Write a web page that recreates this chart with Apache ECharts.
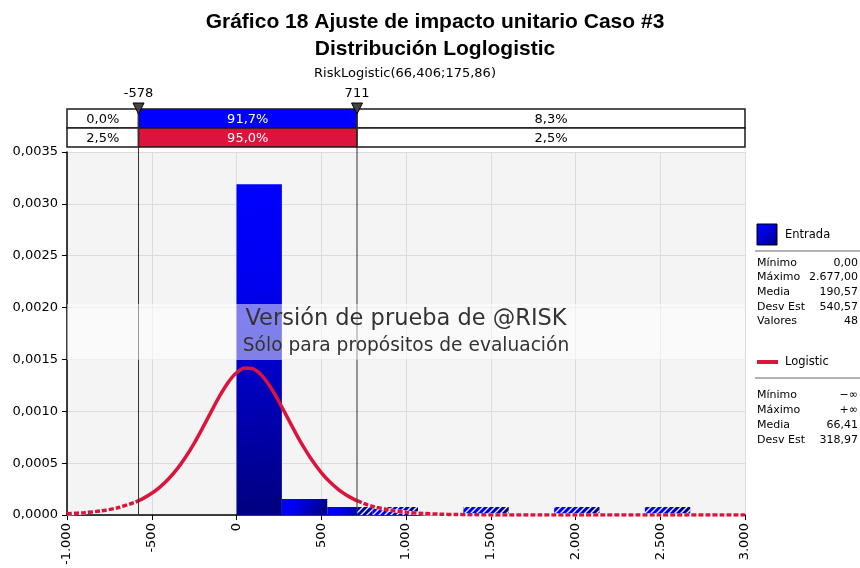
<!DOCTYPE html>
<html>
<head>
<meta charset="utf-8">
<title>Gráfico 18 Ajuste de impacto unitario Caso #3</title>
<script src="https://cdn.jsdelivr.net/npm/echarts@6/dist/echarts.min.js"></script>
<style>
  html, body { margin: 0; padding: 0; background: #fff; }
  #chart { width: 860px; height: 568px; }
</style>
</head>
<body>
<div id="chart"></div>
<script>
// histograma Entrada (48 valores), densidad por clase
const binEdges = [0, 267.7, 535.4, 803.1, 1070.8, 1338.5, 1606.2, 1873.9, 2141.6, 2409.3, 2677]
const binDensity = [0.00319, 0.000156, 0.0000778, 0.0000778, 0, 0.0000778, 0, 0.0000778, 0, 0.0000778]

// curva Logistic
const curveX = [-1000, -900, -800, -700, -600, -578, -550, -500, -450, -400, -350, -300, -250, -200, -150, -100, -50, 0, 50, 100,
  150, 200, 250, 300, 350, 400, 450, 500, 550, 600, 650, 700, 711, 750, 800, 900, 1000, 1100, 1200, 1300, 1400, 1600, 1800, 2000, 2500, 3000]
const curveY = [0.0000132, 0.0000232, 0.0000407, 0.000071, 0.000123, 0.000139, 0.000161, 0.00021, 0.000272, 0.00035, 0.000445, 0.00056,
  0.000692, 0.00084, 0.000995, 0.001146, 0.001277, 0.001372, 0.001419, 0.001409, 0.001344, 0.001235, 0.001095, 0.000942, 0.000788,
  0.000645, 0.000518, 0.00041, 0.000321, 0.000249, 0.000192, 0.000147, 0.000139, 0.000112, 0.000085, 0.0000488, 0.0000279, 0.0000158,
  0.000009, 0.0000051, 0.0000029, 0.0000009, 0.0000003, 0.0000001, 0, 0]

// delimitadores y porcentajes de las barras superiores
const markers = [-578, 711]
const inputPct = [0.0, 91.7, 8.3]
const fitPct = [2.5, 95.0, 2.5]

const entradaStats = [['Mínimo', '0,00'], ['Máximo', '2.677,00'], ['Media', '190,57'], ['Desv Est', '540,57'], ['Valores', '48']]
const logisticStats = [['Mínimo', '−∞'], ['Máximo', '+∞'], ['Media', '66,41'], ['Desv Est', '318,97']]

const xMin = -1000, xMax = 3000, xStep = 500
const yMax = 0.0035, yStep = 0.0005

const FONT = 'DejaVu Sans'
const RED = '#dc143c'
const BLUE = '#0000ff'

function fmtThousands (v) {
  const s = String(Math.abs(v)).replace(/\B(?=(\d{3})+(?!\d))/g, '.')
  return (v < 0 ? '-' : '') + s
}
function fmtPct (v) {
  return v.toFixed(1).replace('.', ',') + '%'
}

// patron de rayas blancas para las clases fuera del intervalo
const stripe = document.createElement('canvas')
stripe.width = 6
stripe.height = 6
const sctx = stripe.getContext('2d')
sctx.strokeStyle = 'rgba(255,255,255,0.95)'
sctx.lineWidth = 1.3
sctx.beginPath()
sctx.moveTo(-1, 7); sctx.lineTo(7, -1)
sctx.moveTo(5, 7); sctx.lineTo(7, 5)
sctx.moveTo(-1, 1); sctx.lineTo(1, -1)
sctx.stroke()

function barGradient () {
  return new echarts.graphic.LinearGradient(0, 0, 1, 1, [
    {offset: 0, color: '#0000ff'},
    {offset: 0.3, color: '#0000f0'},
    {offset: 1, color: '#00007e'}
  ])
}

const binData = binDensity.map((h, i) => [binEdges[i], binEdges[i + 1], h])

function renderBar (params, api) {
  const lo = api.value(0)
  const hi = api.value(1)
  const h = api.value(2)
  if (!h) return
  const p0 = api.coord([lo, h])
  const p1 = api.coord([hi, 0])
  const children = [{
    type: 'rect',
    shape: {x: p0[0], y: p0[1], width: p1[0] - p0[0], height: p1[1] - p0[1]},
    style: {fill: barGradient()}
  }]
  if (hi > markers[1]) {
    const xs = api.coord([Math.max(lo, markers[1]), 0])[0]
    children.push({
      type: 'rect',
      shape: {x: xs, y: p0[1], width: p1[0] - xs, height: p1[1] - p0[1]},
      style: {fill: {image: stripe, repeat: 'repeat'}}
    })
  }
  return {type: 'group', children: children}
}

// barras de porcentaje, lineas verticales y triangulos
function renderFrame (params, api) {
  const top = 109
  const rowH = 19
  const xs = [api.coord([xMin, 0])[0], api.coord([markers[0], 0])[0], api.coord([markers[1], 0])[0], api.coord([xMax, 0])[0]]
  const yBase = api.coord([0, 0])[1]
  const rows = [
    {pct: inputPct, fill: ['#fff', BLUE, '#fff']},
    {pct: fitPct, fill: ['#fff', RED, '#fff']}
  ]
  const children = []
  rows.forEach((row, r) => {
    for (let c = 0; c < 3; c++) {
      children.push({
        type: 'rect',
        shape: {x: xs[c], y: top + r * rowH, width: xs[c + 1] - xs[c], height: rowH},
        style: {fill: row.fill[c], stroke: '#1a1a1a', lineWidth: 1.5}
      })
      children.push({
        type: 'text',
        x: (xs[c] + xs[c + 1]) / 2,
        y: top + r * rowH + rowH / 2 + 1,
        style: {
          text: fmtPct(row.pct[c]), fontSize: 13, fontFamily: FONT,
          fill: row.fill[c] === '#fff' ? '#000' : '#fff', align: 'center', verticalAlign: 'middle'
        }
      })
    }
  })
  markers.forEach((m, i) => {
    const x = xs[i + 1]
    children.push({
      type: 'line',
      shape: {x1: x, y1: top, x2: x, y2: yBase},
      style: {stroke: '#333', lineWidth: 1}
    })
    children.push({
      type: 'polygon',
      shape: {points: [[x - 5.5, 103], [x + 5.5, 103], [x, 114]]},
      style: {fill: '#444', stroke: '#000', lineWidth: 1}
    })
    children.push({
      type: 'text',
      x: x,
      y: 94,
      style: {text: fmtThousands(m), fontSize: 13, fontFamily: FONT, fill: '#000', align: 'center', verticalAlign: 'middle'}
    })
  })
  return {type: 'group', children: children}
}

const curvePts = curveX.map((x, i) => [x, curveY[i]])
const leftTail = curvePts.filter(p => p[0] <= markers[0])
const middle = curvePts.filter(p => p[0] >= markers[0] && p[0] <= markers[1])
const rightTail = curvePts.filter(p => p[0] >= markers[1])

function tailSeries (data, dashed) {
  return {
    type: 'line',
    data: data,
    smooth: 0.3,
    showSymbol: false,
    silent: true,
    z: dashed ? 4 : 3,
    lineStyle: dashed
      ? {color: RED, width: 3.5, type: [5, 2]}
      : {color: '#fff', width: 3.5}
  }
}

function statRows (stats, y0, step) {
  const els = []
  stats.forEach((s, i) => {
    els.push({type: 'text', x: 757, y: y0 + i * step,
      style: {text: s[0], fontSize: 11, fontFamily: FONT, fill: '#000', verticalAlign: 'middle'}})
    els.push({type: 'text', x: 858, y: y0 + i * step,
      style: {text: s[1], fontSize: 11, fontFamily: FONT, fill: '#000', align: 'right', verticalAlign: 'middle'}})
  })
  return els
}

const chart = echarts.init(document.getElementById('chart'))

const option = {
  animation: false,
  backgroundColor: '#fff',
  grid: {
    left: 67, right: 115, top: 152, bottom: 52,
    show: true, backgroundColor: '#f4f4f4', borderWidth: 0
  },
  xAxis: {
    type: 'value',
    min: xMin, max: xMax, interval: xStep,
    axisLine: {show: true, onZero: false, lineStyle: {color: '#000', width: 1.5}},
    axisTick: {show: true, length: 5, lineStyle: {color: '#000'}},
    splitLine: {show: true, lineStyle: {color: '#dcdcdc', width: 1}},
    axisLabel: {
      rotate: 90, margin: 8, fontSize: 13, fontFamily: FONT, color: '#000',
      formatter: v => fmtThousands(v)
    }
  },
  yAxis: {
    type: 'value',
    min: 0, max: yMax, interval: yStep,
    axisLine: {show: true, onZero: false, lineStyle: {color: '#000', width: 1.5}},
    axisTick: {show: true, length: 5, lineStyle: {color: '#000'}},
    splitLine: {show: true, lineStyle: {color: '#dcdcdc', width: 1}},
    axisLabel: {
      margin: 9, fontSize: 13, fontFamily: FONT, color: '#000',
      formatter: v => v.toFixed(4).replace('.', ',')
    }
  },
  series: [
    {
      type: 'custom',
      name: 'Entrada',
      data: binData,
      encode: {x: [0, 1], y: 2},
      renderItem: renderBar,
      silent: true,
      z: 2
    },
    tailSeries(leftTail, false),
    tailSeries(leftTail, true),
    tailSeries(rightTail, false),
    tailSeries(rightTail, true),
    {
      type: 'line',
      name: 'Logistic',
      data: middle,
      smooth: 0.3,
      showSymbol: false,
      silent: true,
      z: 4,
      lineStyle: {color: RED, width: 3.5}
    },
    {
      type: 'custom',
      data: [[0, 0]],
      renderItem: renderFrame,
      clip: false,
      silent: true,
      z: 6
    }
  ],
  graphic: [
    {
      type: 'text', x: 435, y: 22, z: 10,
      style: {text: 'Gráfico 18 Ajuste de impacto unitario Caso #3', fontSize: 21, fontWeight: 'bold',
        fontFamily: 'Liberation Sans', fill: '#000', align: 'center', verticalAlign: 'middle'}
    },
    {
      type: 'text', x: 435, y: 49, z: 10,
      style: {text: 'Distribución Loglogistic', fontSize: 21, fontWeight: 'bold',
        fontFamily: 'Liberation Sans', fill: '#000', align: 'center', verticalAlign: 'middle'}
    },
    {
      type: 'text', x: 405, y: 74, z: 10,
      style: {text: 'RiskLogistic(66,406;175,86)', fontSize: 13, fontFamily: FONT, fill: '#000',
        align: 'center', verticalAlign: 'middle'}
    },
    // marca de agua, por encima de todo
    {type: 'rect', zlevel: 1, z: 100, silent: true,
      shape: {x: 67, y: 304, width: 678, height: 56}, style: {fill: 'rgba(255,255,255,0.5)'}},
    {type: 'text', zlevel: 1, z: 101, silent: true, x: 406, y: 319,
      style: {text: 'Versión de prueba de @RISK', fontSize: 22.5, fontFamily: FONT, fill: '#333',
        align: 'center', verticalAlign: 'middle'}},
    {type: 'text', zlevel: 1, z: 101, silent: true, x: 406, y: 346,
      style: {text: 'Sólo para propósitos de evaluación', fontSize: 18.6, fontFamily: FONT, fill: '#333',
        align: 'center', verticalAlign: 'middle'}},
    // leyenda lateral
    {
      type: 'group', z: 10, silent: true,
      children: [
        {type: 'rect', shape: {x: 757, y: 224, width: 20, height: 21},
          style: {fill: barGradient(), stroke: '#000', lineWidth: 1}},
        {type: 'text', x: 785, y: 235,
          style: {text: 'Entrada', fontSize: 11.5, fontFamily: FONT, fill: '#000', verticalAlign: 'middle'}},
        {type: 'line', shape: {x1: 755, y1: 251, x2: 860, y2: 251}, style: {stroke: '#999', lineWidth: 1.5}},
        ...statRows(entradaStats, 263, 14.6),
        {type: 'line', shape: {x1: 757, y1: 362, x2: 778, y2: 362}, style: {stroke: RED, lineWidth: 4}},
        {type: 'text', x: 785, y: 362,
          style: {text: 'Logistic', fontSize: 11.5, fontFamily: FONT, fill: '#000', verticalAlign: 'middle'}},
        {type: 'line', shape: {x1: 755, y1: 378, x2: 860, y2: 378}, style: {stroke: '#999', lineWidth: 1.5}},
        ...statRows(logisticStats, 395, 15)
      ]
    }
  ]
}

chart.setOption(option)
</script>
</body>
</html>
